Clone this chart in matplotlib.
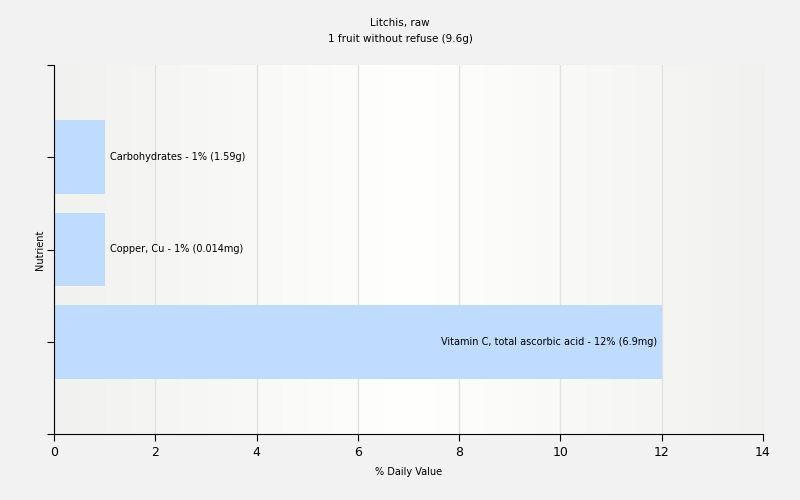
import numpy as np
import matplotlib
matplotlib.use("Agg")
import matplotlib.pyplot as plt

# data, bottom to top
nutrients = ["Vitamin C, total ascorbic acid", "Copper, Cu", "Carbohydrates"]
values = [12, 1, 1]
amounts = ["6.9mg", "0.014mg", "1.59g"]

title = "Litchis, raw\n1 fruit without refuse (9.6g)"

fig = plt.figure(figsize=(8, 5), dpi=100, facecolor="#f2f2f2")
ax = fig.add_axes([0.0675, 0.132, 0.8863, 0.738])

# horizontal gray-white-gray gradient behind the plot
grad = np.concatenate([np.linspace(0.945, 1.0, 400), np.linspace(1.0, 0.945, 400)])
img = np.dstack([grad, grad, grad * 0.995])  # shape (1, 800, 3)
ax.imshow(img, extent=[0, 14, -1, 3], aspect="auto", zorder=0, interpolation="bilinear")

ax.set_xlim(0, 14)
ax.set_ylim(-1, 3)
ax.set_xticks(range(0, 15, 2))
ax.set_yticks([-1, 0, 1, 2, 3])
ax.set_yticklabels([])
ax.grid(axis="x", color="#e2e2e2", linewidth=1, zorder=1)

ypos = np.arange(len(nutrients))
ax.barh(ypos, values, height=0.8, color="#bfdbfe", zorder=2)

for y, v, n, a in zip(ypos, values, nutrients, amounts):
    label = f"{n} - {v}% ({a})"
    if v > 6:
        ax.text(v - 0.1, y, label, ha="right", va="center", fontsize=7, zorder=3)
    else:
        ax.text(v + 0.1, y, label, ha="left", va="center", fontsize=7, zorder=3)

for s in ["top", "right"]:
    ax.spines[s].set_visible(False)
ax.spines["left"].set_color("black")
ax.spines["bottom"].set_color("black")
ax.tick_params(axis="both", length=5, color="black", labelsize=9)

ax.set_xlabel("% Daily Value", fontsize=7)
ax.xaxis.set_label_coords(0.5, -0.09)
ax.set_ylabel("Nutrient", fontsize=7)
ax.yaxis.set_label_coords(-0.013, 0.5)
fig.text(0.5, 0.938, title, ha="center", va="center", fontsize=7.5, linespacing=1.75)

fig.savefig("out.png", dpi=100, facecolor=fig.get_facecolor())
